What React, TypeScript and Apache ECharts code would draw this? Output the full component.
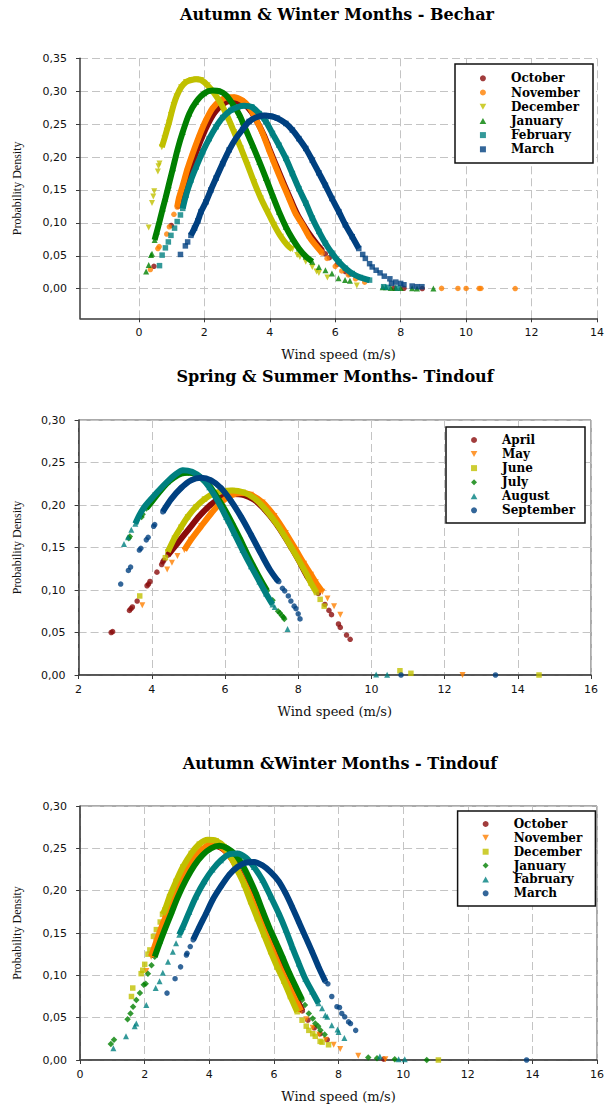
import React, { useEffect, useRef } from "react";
import * as echarts from "echarts";

// ---------- tick labels ----------
const P1X = [0, 2, 4, 6, 8, 10, 12, 14];
const P1Y = [0, 0.05, 0.1, 0.15, 0.2, 0.25, 0.3, 0.35];

// ---------- Panel 1 : Autumn & Winter Months - Bechar ----------
const p1Months = ["October", "November", "December", "January", "February", "March"];
const p1OctBand = [[1.2,0.125],[1.3,0.141],[1.42,0.158],[1.57,0.181],[1.72,0.203],[1.92,0.229],[2.12,0.251],[2.32,0.268],[2.53,0.279],[2.78,0.285],[2.98,0.285],[3.22,0.28],[3.42,0.27],[3.62,0.253],[3.83,0.232],[4.03,0.207],[4.23,0.183],[4.44,0.158],[4.64,0.135],[4.84,0.113],[5.04,0.096],[5.25,0.08],[5.45,0.067],[5.6,0.058]];
const p1OctDots = [[0.46,0.034],[0.99,0.096],[5.7,0.053],[5.82,0.047],[6.06,0.037],[6.31,0.026],[6.45,0.022],[7.8,0.001],[8.1,0.0006],[8.66,0.0002]];
const p1NovBand = [[1.17,0.124],[1.22,0.137],[1.34,0.157],[1.49,0.183],[1.64,0.205],[1.85,0.233],[2.05,0.256],[2.25,0.274],[2.46,0.285],[2.71,0.291],[2.91,0.291],[3.17,0.286],[3.37,0.276],[3.57,0.258],[3.78,0.236],[3.98,0.21],[4.18,0.185],[4.39,0.16],[4.59,0.137],[4.79,0.114],[5.0,0.097],[5.2,0.079],[5.4,0.066],[5.6,0.054]];
const p1NovDots = [[0.35,0.029],[0.58,0.061],[0.62,0.064],[0.85,0.083],[0.93,0.094],[1.07,0.113],[5.75,0.046],[6.0,0.034],[6.2,0.027],[6.4,0.021],[6.62,0.015],[6.9,0.01],[9.25,0.0005],[9.75,0.0004],[10.0,0.0004],[10.4,0.0003],[10.45,0.0003],[11.5,0.0002]];
const p1DecBand = [[0.7,0.215],[0.78,0.228],[0.85,0.24],[0.92,0.252],[0.98,0.264],[1.06,0.279],[1.15,0.292],[1.29,0.306],[1.44,0.314],[1.6,0.317],[1.75,0.318],[1.9,0.317],[2.1,0.309],[2.3,0.297],[2.51,0.281],[2.71,0.261],[2.91,0.238],[3.12,0.213],[3.32,0.188],[3.52,0.162],[3.73,0.137],[3.93,0.117],[4.13,0.097],[4.34,0.079],[4.54,0.066],[4.69,0.06]];
const p1DecDots = [[0.3,0.093],[0.4,0.13],[0.44,0.14],[0.47,0.148],[0.58,0.178],[0.6,0.186],[0.63,0.19],[4.84,0.051],[4.92,0.048],[5.1,0.041],[5.3,0.033],[5.43,0.026],[5.5,0.024],[5.76,0.017],[6.66,0.005]];
const p1JanBand = [[0.48,0.074],[0.55,0.087],[0.63,0.102],[0.73,0.122],[0.81,0.137],[0.91,0.157],[1.04,0.183],[1.19,0.213],[1.34,0.238],[1.54,0.266],[1.75,0.284],[2.0,0.297],[2.25,0.301],[2.46,0.3],[2.66,0.294],[2.86,0.281],[3.07,0.264],[3.27,0.241],[3.47,0.218],[3.68,0.193],[3.88,0.168],[4.08,0.142],[4.28,0.117],[4.49,0.094],[4.69,0.076],[4.89,0.061],[5.1,0.049],[5.3,0.041]];
const p1JanDots = [[0.22,0.026],[0.3,0.036],[0.37,0.051],[0.4,0.053],[5.5,0.033],[5.7,0.028],[5.9,0.023],[6.1,0.016],[6.3,0.013],[6.45,0.012],[7.45,0.002],[7.55,0.002],[7.7,0.001],[7.85,0.001],[8.0,0.001],[8.35,0.0005],[8.5,0.0004],[9.0,0.0002]];
const p1FebBand = [[1.34,0.122],[1.44,0.142],[1.59,0.165],[1.75,0.185],[1.95,0.208],[2.15,0.228],[2.36,0.246],[2.56,0.26],[2.81,0.271],[3.02,0.276],[3.22,0.278],[3.45,0.276],[3.68,0.266],[3.88,0.254],[4.08,0.236],[4.28,0.218],[4.49,0.198],[4.69,0.175],[4.89,0.152],[5.1,0.13],[5.3,0.107],[5.5,0.087],[5.7,0.069],[5.9,0.054],[6.11,0.041],[6.31,0.031],[6.52,0.023],[6.77,0.017],[7.05,0.013]];
const p1FebDots = [[0.63,0.035],[0.71,0.051],[0.81,0.062],[0.9,0.071],[0.98,0.081],[1.09,0.092],[1.17,0.102],[1.27,0.112],[7.48,0.003],[7.6,0.002],[7.9,0.001]];
const p1MarBand = [[1.59,0.081],[1.7,0.092],[1.8,0.103],[1.9,0.117],[2.05,0.132],[2.2,0.15],[2.36,0.168],[2.56,0.19],[2.76,0.211],[2.96,0.228],[3.17,0.242],[3.37,0.254],[3.57,0.26],[3.83,0.263],[4.03,0.262],[4.23,0.259],[4.49,0.251],[4.69,0.241],[4.89,0.228],[5.1,0.213],[5.3,0.195],[5.5,0.176],[5.7,0.157],[5.9,0.137],[6.11,0.117],[6.31,0.097],[6.52,0.079],[6.72,0.061]];
const p1MarDots = [[1.27,0.052],[1.42,0.065],[1.49,0.071],[6.84,0.052],[6.92,0.046],[7.05,0.038],[7.13,0.033],[7.25,0.028],[7.37,0.024],[7.5,0.019],[7.67,0.015],[7.72,0.008],[7.85,0.01],[8.0,0.008],[8.1,0.006],[8.35,0.004],[8.5,0.003],[8.65,0.003]];

// ---------- Panel 2 : Spring & Summer Months - Tindouf ----------
const p2Months = ["April", "May", "June", "July", "August", "September"];
const p2AprBand = [[4.44,0.141],[4.7,0.155],[5.0,0.171],[5.3,0.187],[5.6,0.2],[5.9,0.209],[6.2,0.213],[6.5,0.212],[6.8,0.206],[7.1,0.194],[7.4,0.178],[7.7,0.158],[8.0,0.136],[8.25,0.116],[8.45,0.104]];
const p2AprDots = [[2.89,0.05],[2.93,0.051],[3.39,0.076],[3.43,0.078],[3.47,0.08],[3.6,0.087],[3.87,0.105],[3.91,0.107],[3.95,0.11],[4.14,0.121],[4.27,0.13],[4.3,0.133],[4.33,0.135],[8.55,0.096],[8.73,0.083],[8.84,0.076],[8.91,0.071],[9.1,0.06],[9.15,0.056],[9.32,0.047],[9.42,0.042]];
const p2MayBand = [[4.89,0.147],[5.07,0.159],[5.35,0.175],[5.62,0.19],[5.89,0.203],[6.16,0.211],[6.44,0.214],[6.71,0.212],[7.03,0.203],[7.35,0.187],[7.66,0.167],[7.94,0.147],[8.16,0.131],[8.35,0.118],[8.48,0.109],[8.66,0.098]];
const p2MayDots = [[3.74,0.082],[4.42,0.124],[4.55,0.132],[4.7,0.14],[8.8,0.09],[8.98,0.081],[9.15,0.071],[12.49,0.0]];
const p2JunBand = [[4.44,0.145],[4.62,0.161],[4.8,0.174],[4.98,0.186],[5.21,0.198],[5.44,0.207],[5.66,0.213],[5.9,0.216],[6.2,0.217],[6.5,0.215],[6.8,0.208],[7.1,0.195],[7.44,0.176],[7.8,0.151],[8.07,0.131],[8.25,0.117],[8.35,0.108],[8.5,0.097]];
const p2JunDots = [[3.67,0.093],[4.37,0.138],[8.6,0.089],[8.71,0.081],[10.78,0.005],[11.08,0.002],[14.58,0.0]];
const p2JulBand = [[3.85,0.196],[4.0,0.204],[4.2,0.215],[4.4,0.225],[4.6,0.232],[4.8,0.237],[5.0,0.238],[5.2,0.236],[5.4,0.23],[5.6,0.221],[5.8,0.208],[6.0,0.194],[6.2,0.178],[6.4,0.161],[6.6,0.143],[6.8,0.126],[7.0,0.11],[7.15,0.099]];
const p2JulDots = [[3.37,0.161],[3.4,0.163],[3.72,0.186],[3.75,0.189],[7.3,0.088],[7.45,0.075],[7.5,0.073],[7.55,0.07],[7.6,0.068],[7.62,0.066]];
const p2AugBand = [[3.55,0.178],[3.66,0.188],[3.8,0.198],[4.0,0.208],[4.21,0.218],[4.44,0.228],[4.62,0.235],[4.85,0.241],[5.1,0.239],[5.35,0.232],[5.57,0.221],[5.8,0.205],[6.03,0.186],[6.25,0.167],[6.48,0.147],[6.71,0.128],[6.94,0.11],[7.12,0.096],[7.3,0.083]];
const p2AugDots = [[3.24,0.154],[3.35,0.162],[3.44,0.171],[7.36,0.08],[7.71,0.054],[10.13,0.0005],[10.43,0.0003]];
const p2SepBand = [[4.3,0.192],[4.53,0.207],[4.8,0.22],[5.07,0.229],[5.35,0.232],[5.62,0.229],[5.89,0.22],[6.16,0.205],[6.44,0.186],[6.71,0.165],[6.98,0.143],[7.21,0.125],[7.42,0.112],[7.47,0.11]];
const p2SepDots = [[3.15,0.107],[3.36,0.123],[3.42,0.127],[3.66,0.147],[3.7,0.149],[3.85,0.159],[3.9,0.162],[4.05,0.175],[4.08,0.177],[7.57,0.102],[7.63,0.099],[7.73,0.093],[7.8,0.087],[7.89,0.081],[7.94,0.078],[8.0,0.072],[8.05,0.066],[10.81,0.0],[13.39,0.0]];

// ---------- Panel 3 : Autumn & Winter Months - Tindouf ----------
const p3Months = ["October", "November", "December", "January", "Fabruary", "March"];
const p3OctBand = [[2.25,0.124],[2.4,0.141],[2.6,0.162],[2.78,0.178],[2.95,0.193],[3.15,0.21],[3.36,0.225],[3.6,0.239],[3.85,0.248],[4.1,0.253],[4.35,0.251],[4.55,0.245],[4.75,0.235],[4.95,0.221],[5.1,0.21],[5.25,0.199],[5.45,0.181],[5.65,0.162],[5.85,0.143],[6.05,0.125],[6.25,0.108],[6.48,0.09],[6.56,0.082],[6.7,0.072],[6.88,0.058]];
const p3OctDots = [[7.05,0.047],[7.25,0.038],[7.43,0.031],[7.65,0.024],[9.4,0.001]];
const p3NovBand = [[2.2,0.122],[2.35,0.139],[2.55,0.16],[2.72,0.176],[2.88,0.191],[3.08,0.208],[3.29,0.224],[3.54,0.239],[3.79,0.249],[4.05,0.255],[4.3,0.253],[4.5,0.247],[4.7,0.237],[4.9,0.223],[5.05,0.212],[5.2,0.2],[5.4,0.182],[5.6,0.163],[5.8,0.144],[6.0,0.126],[6.2,0.108],[6.43,0.09],[6.63,0.074],[6.84,0.058]];
const p3NovDots = [[2.05,0.105],[7.0,0.048],[7.2,0.038],[7.4,0.03],[7.6,0.024],[7.85,0.018],[8.05,0.013],[8.61,0.005],[9.45,0.001]];
const p3DecBand = [[2.55,0.172],[2.62,0.177],[2.77,0.193],[2.97,0.211],[3.18,0.228],[3.44,0.244],[3.69,0.255],[3.95,0.26],[4.21,0.259],[4.46,0.252],[4.67,0.24],[4.87,0.224],[5.08,0.207],[5.28,0.187],[5.49,0.167],[5.69,0.148],[5.9,0.128],[6.1,0.11],[6.31,0.093],[6.51,0.075],[6.72,0.057]];
const p3DecDots = [[1.59,0.075],[1.63,0.085],[1.89,0.102],[1.94,0.106],[2.0,0.113],[2.1,0.125],[2.16,0.13],[2.27,0.146],[2.36,0.154],[2.48,0.163],[6.87,0.047],[7.0,0.04],[7.08,0.035],[7.2,0.031],[7.28,0.028],[7.43,0.022],[7.49,0.021],[7.69,0.018],[11.09,0.0]];
const p3JanBand = [[2.31,0.122],[2.46,0.138],[2.62,0.154],[2.82,0.173],[3.03,0.193],[3.28,0.213],[3.54,0.23],[3.79,0.242],[4.05,0.25],[4.31,0.253],[4.56,0.25],[4.82,0.242],[5.03,0.23],[5.23,0.215],[5.44,0.197],[5.64,0.177],[5.85,0.157],[6.05,0.14],[6.26,0.122],[6.46,0.104],[6.67,0.087],[6.87,0.071]];
const p3JanDots = [[0.95,0.019],[1.05,0.024],[1.47,0.048],[1.56,0.055],[1.64,0.063],[1.74,0.071],[1.85,0.079],[1.97,0.089],[2.03,0.09],[2.1,0.102],[2.21,0.112],[6.96,0.065],[7.08,0.055],[7.2,0.049],[7.28,0.043],[7.37,0.04],[7.44,0.035],[7.57,0.03],[8.92,0.003],[9.19,0.002],[9.74,0.001],[10.73,0.0]];
const p3FebBand = [[3.07,0.148],[3.18,0.157],[3.38,0.175],[3.59,0.193],[3.85,0.211],[4.1,0.225],[4.36,0.236],[4.62,0.243],[4.87,0.244],[5.13,0.239],[5.38,0.228],[5.64,0.213],[5.9,0.193],[6.15,0.173],[6.36,0.154],[6.56,0.134],[6.77,0.114],[6.97,0.096],[7.18,0.081],[7.38,0.067]];
const p3FebDots = [[1.03,0.014],[1.42,0.028],[1.69,0.04],[1.74,0.043],[2.05,0.065],[2.34,0.085],[2.46,0.093],[2.56,0.103],[2.72,0.116],[2.87,0.128],[2.97,0.138],[7.49,0.061],[7.59,0.053],[7.65,0.051],[7.79,0.041],[7.97,0.036],[8.0,0.033],[8.18,0.026],[9.28,0.004],[9.86,0.001],[10.05,0.001]];
const p3MarBand = [[3.5,0.142],[3.69,0.157],[3.9,0.173],[4.1,0.189],[4.36,0.205],[4.62,0.219],[4.87,0.228],[5.13,0.233],[5.38,0.234],[5.64,0.23],[5.9,0.222],[6.15,0.211],[6.36,0.197],[6.56,0.181],[6.77,0.163],[6.97,0.146],[7.18,0.128],[7.38,0.11],[7.59,0.093]];
const p3MarDots = [[2.69,0.079],[2.94,0.096],[3.11,0.11],[3.29,0.124],[3.31,0.126],[3.41,0.134],[7.67,0.09],[7.79,0.075],[7.95,0.063],[8.03,0.062],[8.1,0.055],[8.19,0.051],[8.31,0.045],[8.37,0.043],[8.53,0.035],[13.82,0.0]];

// ---------- styles ----------
const RED = "#8a0b0b";
const ORANGE = "#ff8000";
const OLIVE = "#c0c000";
const GREEN = "#008000";
const TEAL = "#008080";
const NAVY = "#004080";
const DOWN = "path://M0,0L10,0L5,9Z";
const UP = "path://M5,0L10,9L0,9Z";
const SQ = "path://M0,0L10,0L10,10L0,10Z";
const DIA = "path://M5,0L10,5L5,10L0,5Z";
const DOT = "circle";

const panels = [
  [
    { band: p1OctBand, dots: p1OctDots, color: RED, symbol: DOT, size: 5.5 },
    { band: p1NovBand, dots: p1NovDots, color: ORANGE, symbol: DOT, size: 5.5 },
    { band: p1DecBand, dots: p1DecDots, color: OLIVE, symbol: DOWN, size: 6 },
    { band: p1JanBand, dots: p1JanDots, color: GREEN, symbol: UP, size: 6 },
    { band: p1FebBand, dots: p1FebDots, color: TEAL, symbol: SQ, size: 5.5 },
    { band: p1MarBand, dots: p1MarDots, color: NAVY, symbol: SQ, size: 5.5 },
  ],
  [
    { band: p2AprBand, dots: p2AprDots, color: RED, symbol: DOT, size: 5.5 },
    { band: p2MayBand, dots: p2MayDots, color: ORANGE, symbol: DOWN, size: 6 },
    { band: p2JunBand, dots: p2JunDots, color: OLIVE, symbol: SQ, size: 5.5 },
    { band: p2JulBand, dots: p2JulDots, color: GREEN, symbol: DIA, size: 6.5 },
    { band: p2AugBand, dots: p2AugDots, color: TEAL, symbol: UP, size: 6 },
    { band: p2SepBand, dots: p2SepDots, color: NAVY, symbol: DOT, size: 5.5 },
  ],
  [
    { band: p3OctBand, dots: p3OctDots, color: RED, symbol: DOT, size: 5.5 },
    { band: p3NovBand, dots: p3NovDots, color: ORANGE, symbol: DOWN, size: 6 },
    { band: p3DecBand, dots: p3DecDots, color: OLIVE, symbol: SQ, size: 5.5 },
    { band: p3JanBand, dots: p3JanDots, color: GREEN, symbol: DIA, size: 6.5 },
    { band: p3FebBand, dots: p3FebDots, color: TEAL, symbol: UP, size: 6 },
    { band: p3MarBand, dots: p3MarDots, color: NAVY, symbol: DOT, size: 5.5 },
  ],
];
const monthNames = [p1Months, p2Months, p3Months];
const titles = [
  "Autumn & Winter Months - Bechar",
  "Spring & Summer Months- Tindouf",
  "Autumn &Winter Months - Tindouf",
];

const GRIDS = [
  { left: 80, top: 58.3, width: 519.3, height: 260, show: false },
  { left: 78.6, top: 420, width: 512.4, height: 255, show: true, borderColor: "#555", borderWidth: 1 },
  { left: 80.1, top: 806, width: 518.9, height: 254, show: true, borderColor: "#555", borderWidth: 1 },
];
const TITLE_POS = [
  { x: 337, y: 14 },
  { x: 335, y: 376 },
  { x: 340, y: 763 },
];
const LEG = [
  { left: 479.6, top: 72.3, gap: 2.2, box: { x: 455, y: 64, w: 138, h: 99 } },
  { left: 470.7, top: 434, gap: 2.06, box: { x: 446, y: 427, w: 139, h: 96 } },
  { left: 482.3, top: 818, gap: 1.86, box: { x: 457.6, y: 811, w: 137.8, h: 95 } },
];

const fmt = (v: number) => v.toFixed(2).replace(".", ",");
const tickFont = { fontFamily: "DejaVu Sans", fontSize: 11, color: "#111" };
const gridLine = { show: true, lineStyle: { color: "#c4c4c4", type: [8, 4], width: 1 } };
const axLine = { onZero: false, lineStyle: { color: "#3a3a3a", width: 1.5 } };
const tick = { show: true, length: 4, lineStyle: { color: "#3a3a3a" } };

export default function App() {
  const ref = useRef<HTMLDivElement>(null);
  useEffect(() => {
    document.body.style.margin = "0";
    const chart = echarts.init(ref.current!, null, { renderer: "svg" });

    const series: any[] = [];
    panels.forEach((ms, i) =>
      ms.forEach((m, j) => {
        const nm = `p${i}|${monthNames[i][j]}`;
        series.push({
          type: "line",
          name: nm + "|band",
          xAxisIndex: i,
          yAxisIndex: i,
          data: m.band,
          symbol: "none",
          showSymbol: false,
          smooth: 0.3,
          silent: true,
          lineStyle: { color: m.color, width: 6 },
        });
        series.push({
          type: "scatter",
          name: nm,
          xAxisIndex: i,
          yAxisIndex: i,
          data: [...m.dots, ...m.band],
          symbol: m.symbol,
          symbolSize: m.size,
          itemStyle: { color: m.color },
          silent: true,
        });
      })
    );

    const xName = {
      name: "Wind speed (m/s)",
      nameLocation: "middle",
      nameGap: 30,
      nameTextStyle: { fontFamily: "DejaVu Serif", fontSize: 13, color: "#111" },
    };
    const yName = {
      name: "Probability Density",
      nameLocation: "middle",
      nameTextStyle: { fontFamily: "Liberation Serif", fontSize: 12, color: "#111" },
    };

    const option: any = {
      animation: false,
      grid: GRIDS,
      xAxis: [
        {
          gridIndex: 0, type: "value", min: -1.8, max: 14, ...xName,
          axisLabel: { customValues: P1X, ...tickFont, margin: 9 },
          axisTick: { ...tick, customValues: P1X },
          splitLine: gridLine, axisLine: axLine,
        },
        {
          gridIndex: 1, type: "value", min: 2, max: 16, interval: 2, ...xName,
          axisLabel: { ...tickFont, margin: 9 },
          axisTick: tick, splitLine: gridLine, axisLine: axLine,
        },
        {
          gridIndex: 2, type: "value", min: 0, max: 16, interval: 2, ...xName,
          axisLabel: { ...tickFont, margin: 9 },
          axisTick: tick, splitLine: gridLine, axisLine: axLine,
        },
      ],
      yAxis: [
        {
          gridIndex: 0, type: "value", min: -0.045, max: 0.35, ...yName, nameGap: 57,
          axisLabel: { customValues: P1Y, formatter: fmt, ...tickFont, margin: 13 },
          axisTick: { ...tick, customValues: P1Y },
          splitLine: gridLine, axisLine: { ...axLine, show: true },
        },
        {
          gridIndex: 1, type: "value", min: 0, max: 0.3, interval: 0.05, ...yName, nameGap: 56,
          axisLabel: { formatter: fmt, ...tickFont, margin: 13 },
          axisTick: tick, splitLine: gridLine, axisLine: { ...axLine, show: true },
        },
        {
          gridIndex: 2, type: "value", min: 0, max: 0.3, interval: 0.05, ...yName, nameGap: 57,
          axisLabel: { formatter: fmt, ...tickFont, margin: 13 },
          axisTick: tick, splitLine: gridLine, axisLine: { ...axLine, show: true },
        },
      ],
      legend: panels.map((ms, i) => ({
        data: monthNames[i].map((n) => `p${i}|${n}`),
        formatter: (n: string) => n.split("|")[1],
        orient: "vertical",
        left: LEG[i].left,
        top: LEG[i].top,
        itemWidth: 46,
        itemHeight: 6,
        itemGap: LEG[i].gap,
        padding: 0,
        selectedMode: false,
        symbolKeepAspect: true,
        textStyle: {
          fontFamily: "DejaVu Serif",
          fontWeight: "bold",
          fontSize: 12,
          lineHeight: 12,
          color: "#000",
        },
      })),
      graphic: [
        ...LEG.map((l) => ({
          type: "rect",
          z: 3,
          shape: { x: l.box.x, y: l.box.y, width: l.box.w, height: l.box.h },
          style: { fill: "#fff", stroke: "#111", lineWidth: 1.5 },
        })),
        ...titles.map((t, i) => ({
          type: "text",
          z: 5,
          x: TITLE_POS[i].x,
          y: TITLE_POS[i].y,
          style: {
            text: t,
            align: "center",
            verticalAlign: "middle",
            fontFamily: "DejaVu Serif",
            fontWeight: "bold",
            fontSize: 16,
            fill: "#000",
          },
        })),
      ],
      series,
    };
    chart.setOption(option);
    return () => chart.dispose();
  }, []);
  return <div ref={ref} style={{ width: 607, height: 1106 }} />;
}
